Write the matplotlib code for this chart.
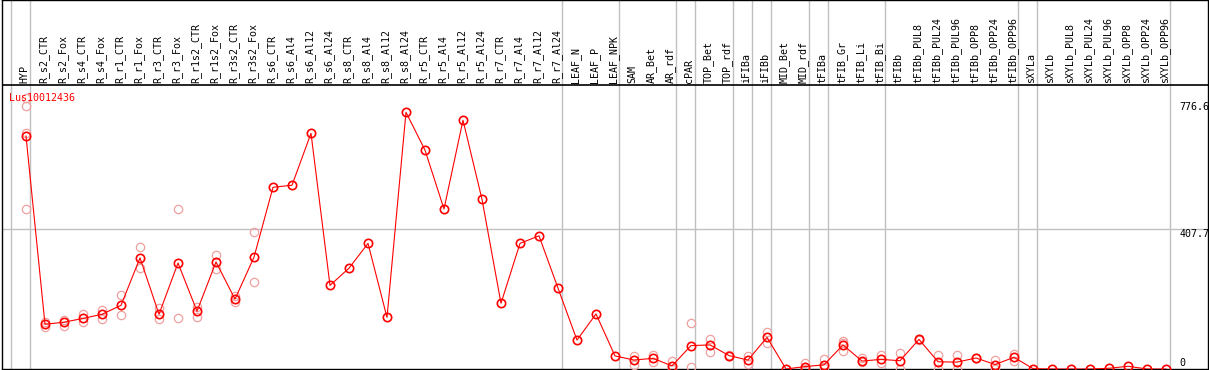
import matplotlib
matplotlib.use('Agg')
import matplotlib.pyplot as plt

# noms des colonnes (conditions)
labels = ['HYP', 'R_s2_CTR', 'R_s2_Fox', 'R_s4_CTR', 'R_s4_Fox', 'R_r1_CTR', 'R_r1_Fox',
          'R_r3_CTR', 'R_r3_Fox', 'R_r1s2_CTR', 'R_r1s2_Fox', 'R_r3s2_CTR', 'R_r3s2_Fox',
          'R_s6_CTR', 'R_s6_Al4', 'R_s6_Al12', 'R_s6_Al24', 'R_s8_CTR', 'R_s8_Al4',
          'R_s8_Al12', 'R_s8_Al24', 'R_r5_CTR', 'R_r5_Al4', 'R_r5_Al12', 'R_r5_Al24',
          'R_r7_CTR', 'R_r7_Al4', 'R_r7_Al12', 'R_r7_Al24', 'LEAF_N', 'LEAF_P', 'LEAF_NPK',
          'SAM', 'AR_Bet', 'AR_rdf', 'cPAR', 'TOP_Bet', 'TOP_rdf', 'iFIBa', 'iFIBb',
          'MID_Bet', 'MID_rdf', 'tFIBa', 'tFIB_Gr', 'tFIB_Li', 'tFIB_Bi', 'tFIBb',
          'tFIBb_PUL8', 'tFIBb_PUL24', 'tFIBb_PUL96', 'tFIBb_OPP8', 'tFIBb_OPP24', 'tFIBb_OPP96',
          'sXYLa', 'sXYLb', 'sXYLb_PUL8', 'sXYLb_PUL24', 'sXYLb_PUL96', 'sXYLb_OPP8',
          'sXYLb_OPP24', 'sXYLb_OPP96']

# moyennes
means = [677, 130, 136, 147, 159, 185, 323, 159, 308, 168, 311, 203, 325,
         528, 534, 685, 243, 293, 365, 150, 746, 636, 465, 723, 493,
         191, 365, 387, 235, 84, 160, 38,
         26, 31, 9, 68, 70, 39, 26, 92,
         0, 7, 12, 70, 23, 28, 24,
         86, 21, 20, 32, 13, 34,
         1, 0, 0, 0, 2, 8, 0, 0]

# replicats
replicates = [[788, 763, 686, 464], [137, 122], [142, 125], [160, 137], [172, 146],
              [215, 156], [354, 293], [176, 144], [464, 147], [181, 151], [331, 291],
              [212, 195], [397, 252],
              [], [], [], [], [], [], [], [], [], [], [], [], [], [], [], [], [], [], [],
              [38, 12], [41, 21], [23, 0], [134, 5], [88, 49], [41, 37], [39, 14], [107, 76],
              [], [16, 0], [29, 3], [82, 76, 52], [31, 20], [40, 16], [47, 1],
              [88, 84], [40, 0], [41, 0], [33, 31], [26, 0], [44, 24],
              [], [], [], [], [], [], [], []]

# separateurs de groupes (apres ces colonnes)
separators = [-1, 0, 28, 31, 34, 35, 37, 38, 39, 41, 42, 45, 52, 53, 60]

y_ticks = [776.6, 407.7, 0]
title = 'Lus10012436'

W, H = 1209, 370
fig = plt.figure(figsize=(W / 100, H / 100), dpi=100)
ax = fig.add_axes([2 / W, 1 / H, 1206 / W, 369 / H])

xmin = -24 / 19
ax.set_xlim(xmin, xmin + 1206 / 19)
ymax = 407.7 * 369 / 140.3
ax.set_ylim(0, ymax)
header_y = 284 / 369 * ymax

ax.set_xticks([])
ax.set_yticks([])
for s in ax.spines.values():
    s.set_color('black')
    s.set_linewidth(1)

font = 'DejaVu Sans Mono'

for s in separators:
    ax.axvline(s + 0.21, color='#c0c0c0', lw=1, zorder=1)
ax.axhline(407.7, color='#c0c0c0', lw=1, zorder=1)
ax.axhline(header_y, color='black', lw=1.2, zorder=2)

for i, lab in enumerate(labels):
    ax.text(i - 0.08, header_y + 2 / 369 * ymax, lab, rotation=90, ha='center', va='bottom',
            fontsize=7.2, family=font, color='black')

for i, reps in enumerate(replicates):
    if reps:
        ax.plot([i] * len(reps), reps, ls='none', marker='o', ms=6, mfc='none',
                mec='#f0a0a0', mew=0.9, zorder=3)

x = list(range(len(means)))
ax.plot(x, means, color='red', lw=0.8, marker='o', ms=6, mfc='none', mec='red',
        mew=1.2, zorder=4)

ax.text(-0.9, header_y - 8 / 369 * ymax, title, color='red', fontsize=7.2, family=font,
        ha='left', va='top', zorder=5)

for v in y_ticks:
    if v > 0:
        ax.text(60.7, v, f'{v:g}', fontsize=7.2, family=font, ha='left', va='top', clip_on=False)
    else:
        ax.text(60.7, 2, '0', fontsize=7.2, family=font, ha='left', va='bottom', clip_on=False)

fig.savefig('out.png', dpi=100)
